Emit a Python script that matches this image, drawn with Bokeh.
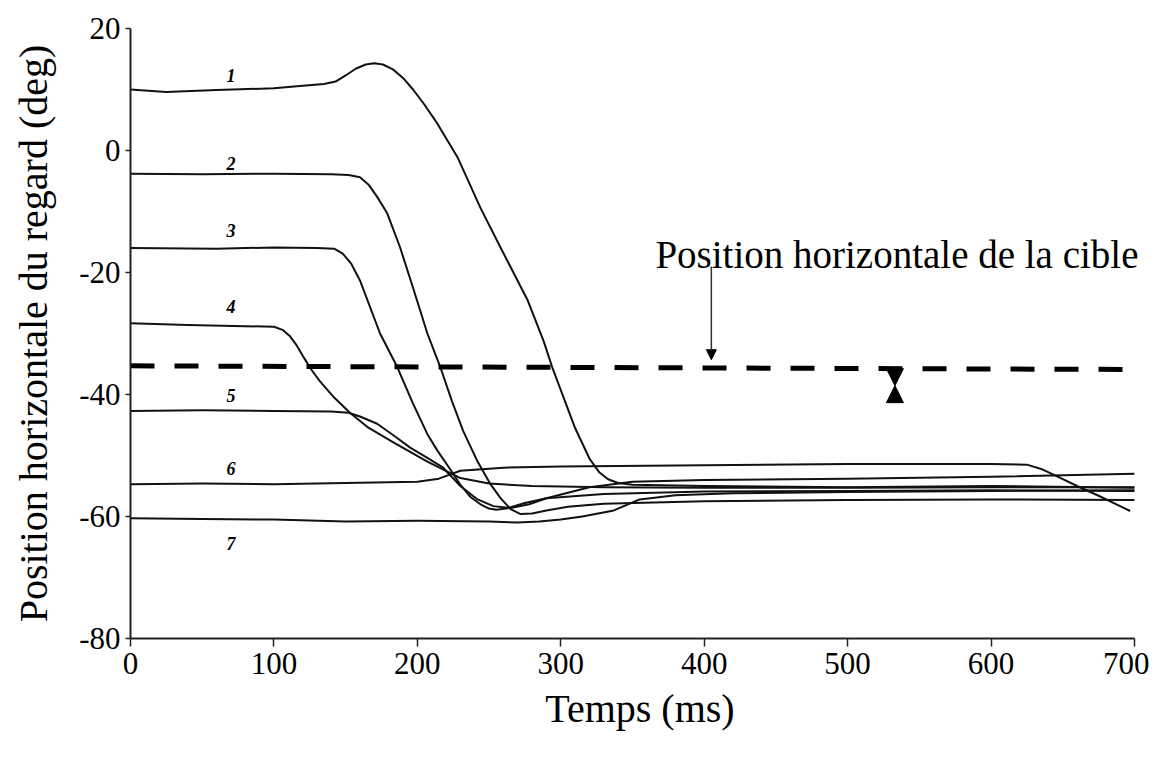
from bokeh.plotting import figure
from bokeh.models import ColumnDataSource, Label, Arrow, NormalHead, Range1d, FixedTicker
from bokeh.core.properties import value
from bokeh.embed import file_html
from bokeh.resources import INLINE

# ---- data (time in ms, horizontal gaze position in deg) ----
c1_t = [0, 25, 60, 100, 120, 135, 143, 150, 157, 164, 170, 176, 183, 190, 197, 205, 214, 228, 244, 258, 277, 288, 294, 310, 320, 327, 333, 340, 350, 400, 500, 600, 700]
c1_y = [10.0, 9.6, 9.9, 10.2, 10.6, 10.9, 11.3, 12.3, 13.4, 14.1, 14.3, 14.1, 13.3, 11.9, 10.0, 7.5, 4.4, -1.1, -9.4, -15.9, -24.6, -31.2, -35.5, -45.5, -50.5, -52.8, -53.9, -54.5, -54.8, -55.0, -55.2, -55.0, -55.3]

c2_t = [0, 50, 100, 140, 152, 160, 166, 172, 179, 188, 197, 207, 216, 224, 232, 242, 251, 258, 265, 272, 280, 290, 305, 330, 400, 500, 600, 700]
c2_y = [-3.8, -3.9, -3.8, -3.9, -4.0, -4.4, -5.6, -7.6, -10.3, -15.9, -22.5, -30.0, -35.5, -41.0, -46.0, -51.0, -54.7, -57.0, -58.8, -59.6, -59.5, -59.0, -58.4, -57.9, -57.5, -57.3, -57.2, -57.3]

c3_t = [0, 60, 100, 130, 142, 148, 154, 160, 174, 186, 197, 207, 214, 221, 230, 237, 244, 250, 255, 262, 275, 290, 330, 400, 500, 600, 700]
c3_y = [-16.0, -16.1, -15.9, -16.0, -16.1, -16.9, -18.6, -21.3, -30.0, -35.5, -41.5, -46.5, -49.2, -51.6, -54.8, -56.8, -58.0, -58.7, -58.9, -58.7, -57.8, -57.0, -56.3, -55.9, -55.8, -55.7, -55.8]

c4_t = [0, 40, 80, 100, 106, 111, 116, 121, 126, 132, 142, 153, 165, 183, 207, 230, 250, 280, 330, 400, 500, 600, 700]
c4_y = [-28.3, -28.6, -28.8, -28.9, -29.4, -30.4, -32.0, -34.0, -35.9, -37.8, -40.5, -43.0, -45.3, -47.8, -51.0, -53.7, -54.6, -55.0, -55.2, -55.3, -55.3, -55.2, -55.2]

c5_t = [0, 50, 100, 140, 152, 160, 172, 184, 195, 207, 218, 230, 242, 253, 265, 278, 290, 320, 350, 400, 500, 600, 700]
c5_y = [-42.7, -42.6, -42.7, -42.8, -43.0, -43.6, -44.8, -46.8, -48.7, -50.4, -52.0, -55.0, -57.2, -58.3, -58.6, -58.0, -57.0, -55.2, -54.3, -54.0, -53.8, -53.5, -53.0]

c6_t = [0, 50, 100, 150, 200, 215, 230, 260, 300, 400, 500, 600, 625, 635, 645, 660, 675, 690, 697]
c6_y = [-54.7, -54.6, -54.7, -54.5, -54.3, -53.8, -52.5, -52.0, -51.8, -51.6, -51.4, -51.4, -51.5, -52.2, -53.3, -55.0, -56.6, -58.3, -59.1]

c7_t = [0, 50, 100, 150, 200, 250, 270, 285, 300, 315, 337, 355, 380, 420, 500, 600, 700]
c7_y = [-60.3, -60.4, -60.5, -60.8, -60.7, -60.8, -61.0, -60.8, -60.5, -60.0, -59.0, -57.2, -56.5, -56.2, -56.0, -55.8, -55.7]

curve_names = ["1", "2", "3", "4", "5", "6", "7"]

target_t = [0, 700]
target_y = [-35.3, -35.9]

err_t = 533
err_top = -35.7
err_bottom = -41.4

x_ticks = [0, 100, 200, 300, 400, 500, 600, 700]
y_ticks = [20, 0, -20, -40, -60, -80]
y_tick_labels = ["20", "0", "-20", "-40", "-60", "-80"]

# placement of the curve numbers
name_x = [70, 70, 70, 70, 70, 70, 70]
name_y = [12.3, -2.1, -13.1, -25.6, -40.2, -52.1, -64.4]

SERIF = "Liberation Serif"

p = figure(width=1149, height=742, output_backend="svg", toolbar_location=None,
           x_range=Range1d(0, 710.5), y_range=Range1d(-80, 20),
           min_border_left=130, min_border_right=0, min_border_top=28, min_border_bottom=104)
p.outline_line_color = None
p.grid.visible = False
p.background_fill_color = "white"

curves = [(c1_t, c1_y), (c2_t, c2_y), (c3_t, c3_y), (c4_t, c4_y),
          (c5_t, c5_y), (c6_t, c6_y), (c7_t, c7_y)]
for t, y in curves:
    p.line(t, y, line_color="#111111", line_width=2, line_join="round")

p.line(target_t, target_y, line_color="black", line_width=5, line_dash="24 20")

src = ColumnDataSource(dict(x=name_x, y=name_y, text=curve_names))
p.text(x="x", y="y", text="text", source=src, text_font=value(SERIF),
       text_font_size="18px", text_font_style="bold italic", text_align="center",
       text_baseline="middle", text_color="black")

# error bar (hourglass)
mid = (err_top + err_bottom) / 2
p.add_layout(Arrow(x_start=err_t, y_start=err_top, x_end=err_t, y_end=mid, line_width=2,
                   end=NormalHead(size=17, fill_color="black", line_color="black")))
p.add_layout(Arrow(x_start=err_t, y_start=err_bottom, x_end=err_t, y_end=mid, line_width=2,
                   end=NormalHead(size=17, fill_color="black", line_color="black")))

# annotation
p.add_layout(Label(x=366, y=-17.0, text="Position horizontale de la cible",
                   text_font=SERIF, text_font_size="39px", text_color="black",
                   text_baseline="alphabetic"))
p.add_layout(Arrow(x_start=405, y_start=-19.0, x_end=405, y_end=-34.3, line_width=1.5,
                   line_color="#333333",
                   end=NormalHead(size=10, fill_color="black", line_color="black")))

# axes
p.xaxis.ticker = FixedTicker(ticks=x_ticks)
p.yaxis.ticker = FixedTicker(ticks=y_ticks)
p.yaxis.major_label_overrides = dict(zip(y_ticks, y_tick_labels))
p.xaxis.bounds = (0, 700)
p.yaxis.bounds = (-80, 20)
p.xaxis.axis_label = "Temps (ms)"
p.yaxis.axis_label = "Position horizontale du regard (deg)"
for ax in (p.xaxis[0], p.yaxis[0]):
    ax.axis_line_width = 2
    ax.axis_line_color = "#222222"
    ax.major_tick_line_color = "#222222"
    ax.major_tick_line_width = 1.5
    ax.minor_tick_line_color = None
    ax.major_tick_in = 0
    ax.major_label_text_font = SERIF
    ax.major_label_text_font_size = "31px"
    ax.major_label_text_color = "black"
    ax.axis_label_text_font = SERIF
    ax.axis_label_text_font_size = "40px"
    ax.axis_label_text_font_style = "normal"
    ax.axis_label_text_color = "black"
p.xaxis.major_tick_out = 8
p.yaxis.major_tick_out = 5
p.xaxis.major_label_standoff = 6
p.yaxis.major_label_standoff = 5
p.xaxis.axis_label_standoff = 9
p.yaxis.axis_label_standoff = 20

open("out.html", "w").write(file_html(p, INLINE))
